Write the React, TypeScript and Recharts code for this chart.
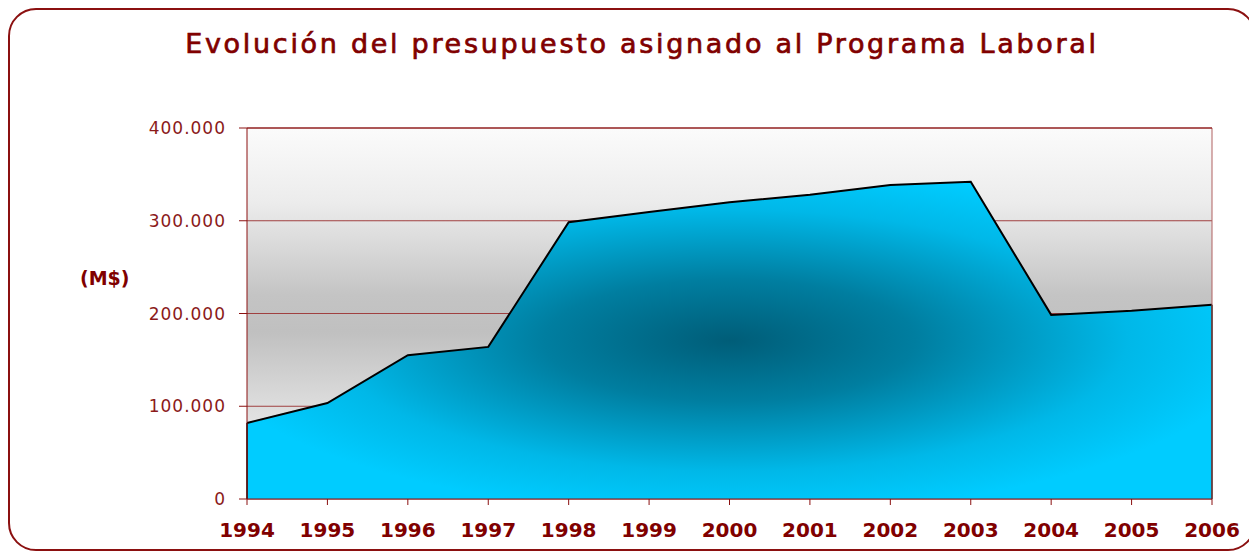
import { AreaChart, Area, XAxis, YAxis, CartesianGrid, ReferenceLine, Label } from 'recharts';

const years = ['1994', '1995', '1996', '1997', '1998', '1999', '2000', '2001', '2002', '2003', '2004', '2005', '2006'];
const budget = [82000, 103500, 155000, 164000, 298500, 309500, 320000, 328000, 338500, 342000, 198500, 203000, 209500];
const yTicks = [0, 100000, 200000, 300000, 400000];

const data = years.map((year, i) => ({ year, budget: budget[i] }));

const fmt = (v: number) => (v === 0 ? '0' : v.toLocaleString('de-DE'));

const RED = '#8b1010';

export default function App() {
  return (
    <div
      style={{
        position: 'relative',
        width: 1248,
        height: 543,
        boxSizing: 'border-box',
        border: `2px solid ${RED}`,
        borderRadius: 28,
        background: '#fff',
        fontFamily: '"DejaVu Sans", Verdana, sans-serif',
      }}
    >
      <div
        style={{
          position: 'absolute',
          top: 18,
          left: 10,
          width: '100%',
          textAlign: 'center',
          fontSize: 27,
          fontWeight: 400,
          letterSpacing: 2.7,
          WebkitTextStroke: '0.7px #800000',
          color: '#800000',
        }}
      >
        Evolución del presupuesto asignado al Programa Laboral
      </div>
      <AreaChart width={1244} height={539} data={data} margin={{ top: 118, right: 42, left: 0, bottom: 0 }}>
        <defs>
          <linearGradient id="bgGrad" x1="0" y1="0" x2="0" y2="1">
            <stop offset="0%" stopColor="#fbfbfb" />
            <stop offset="20%" stopColor="#ececec" />
            <stop offset="45%" stopColor="#c4c4c4" />
            <stop offset="55%" stopColor="#c0c0c0" />
            <stop offset="80%" stopColor="#e4e4e4" />
            <stop offset="100%" stopColor="#f4f4f4" />
          </linearGradient>
          <radialGradient id="areaGrad" cx="0.5" cy="0.5" r="0.55">
            <stop offset="0%" stopColor="#005d78" />
            <stop offset="35%" stopColor="#007ea0" />
            <stop offset="75%" stopColor="#00b8e8" />
            <stop offset="100%" stopColor="#00ccff" />
          </radialGradient>
        </defs>
        <CartesianGrid vertical={false} stroke="#a04040" fill="url(#bgGrad)" fillOpacity={1} />
        <XAxis
          dataKey="year"
          height={50}
          axisLine={{ stroke: RED }}
          tickLine={{ stroke: RED }}
          tickSize={6}
          tickMargin={18}
          interval={0}
          tick={{ fontSize: 20, fontWeight: 700, fill: '#800000' }}
        />
        <YAxis
          width={237}
          domain={[0, 400000]}
          ticks={yTicks}
          tickFormatter={fmt}
          axisLine={{ stroke: RED }}
          tickLine={{ stroke: RED }}
          tickSize={8}
          tickMargin={13}
          tick={{ fontSize: 17, fill: '#8b1a1a', letterSpacing: 1 }}
        >
          <Label value="(M$)" position="insideLeft" offset={70} dy={-35} style={{ fontSize: 19, fontWeight: 700, fill: '#800000' }} />
        </YAxis>
        <Area
          type="linear"
          dataKey="budget"
          stroke="#000"
          strokeWidth={2}
          fill="url(#areaGrad)"
          fillOpacity={1}
          isAnimationActive={false}
        />
        <ReferenceLine segment={[{ x: years[0], y: 0 }, { x: years[0], y: budget[0] }]} stroke="#000" strokeWidth={1.5} />
        <ReferenceLine segment={[{ x: years[years.length - 1], y: 0 }, { x: years[years.length - 1], y: budget[budget.length - 1] }]} stroke="#000" strokeWidth={1.5} />
        <ReferenceLine x={years[years.length - 1]} stroke="#b06060" />
        <ReferenceLine y={400000} stroke={RED} />
      </AreaChart>
    </div>
  );
}
